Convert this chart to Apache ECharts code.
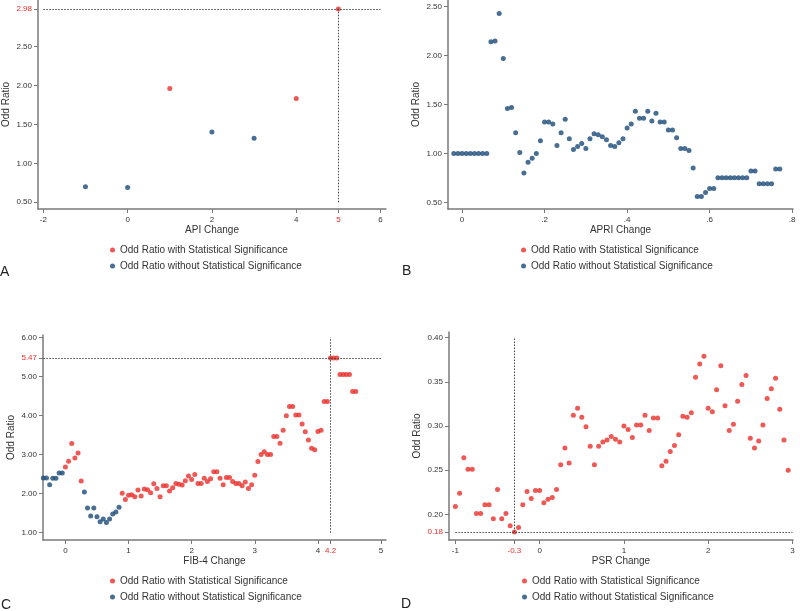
<!DOCTYPE html>
<html>
<head>
<meta charset="utf-8">
<script src="https://cdn.jsdelivr.net/npm/echarts@6/dist/echarts.min.js"></script>
<style>html,body{margin:0;padding:0;background:#fff}#c{width:800px;height:611px}</style>
</head>
<body>
<div id="c"></div>
<script>
// ---------- DATA ----------
// Panel A: API change
const apiX   = [-1, 0, 1, 2, 3, 4, 5];
const apiOR  = [0.70, 0.69, 1.96, 1.40, 1.32, 1.83, 2.98];
const apiSig = [0, 0, 1, 0, 0, 1, 1];
const apiXTicks = [-2, 0, 2, 4, 5, 6];
const apiYTicks = [0.5, 1.0, 1.5, 2.0, 2.5, 2.98];
const apiRefX = 5, apiRefY = 2.98;

// Panel B: APRI change
const apriX = [-0.02,-0.01,0.00,0.01,0.02,0.03,0.04,0.05,0.06,0.07,0.08,0.09,0.10,0.11,0.12,0.13,0.14,0.15,0.16,0.17,
  0.18,0.19,0.20,0.21,0.22,0.23,0.24,0.25,0.26,0.27,0.28,0.29,0.30,0.31,0.32,0.33,0.34,0.35,0.36,0.37,
  0.38,0.39,0.40,0.41,0.42,0.43,0.44,0.45,0.46,0.47,0.48,0.49,0.50,0.51,0.52,0.53,0.54,0.55,0.56,0.57,
  0.58,0.59,0.60,0.61,0.62,0.63,0.64,0.65,0.66,0.67,0.68,0.69,0.70,0.71,0.72,0.73,0.74,0.75,0.76,0.77];
const apriOR = [1.00,1.00,1.00,1.00,1.00,1.00,1.00,1.00,1.00,2.14,2.15,2.43,1.97,1.46,1.47,1.21,1.01,0.80,0.91,0.95,
  1.00,1.13,1.32,1.32,1.30,1.08,1.21,1.35,1.15,1.04,1.07,1.10,1.05,1.15,1.20,1.19,1.17,1.14,1.08,1.07,
  1.11,1.15,1.26,1.30,1.43,1.36,1.36,1.43,1.33,1.41,1.32,1.32,1.24,1.24,1.16,1.05,1.05,1.03,0.85,0.56,
  0.56,0.60,0.64,0.64,0.75,0.75,0.75,0.75,0.75,0.75,0.75,0.75,0.82,0.82,0.69,0.69,0.69,0.69,0.84,0.84];
const apriXTicks = [0, 0.2, 0.4, 0.6, 0.8];
const apriXLabels = ['0', '.2', '.4', '.6', '.8'];
const apriYTicks = [0.5, 1.0, 1.5, 2.0, 2.5];

// Panel C: FIB-4 change
const fibX = [-0.35,-0.30,-0.25,-0.20,-0.15,-0.10,-0.05,0.00,0.05,0.10,0.15,0.20,0.25,0.30,0.35,0.40,0.45,0.50,0.55,0.60,
  0.65,0.70,0.75,0.80,0.85,0.90,0.95,1.00,1.05,1.10,1.15,1.20,1.25,1.30,1.35,1.40,1.45,1.50,1.55,1.60,
  1.65,1.70,1.75,1.80,1.85,1.90,1.95,2.00,2.05,2.10,2.15,2.20,2.25,2.30,2.35,2.40,2.45,2.50,2.55,2.60,
  2.65,2.70,2.75,2.80,2.85,2.90,2.95,3.00,3.05,3.10,3.15,3.20,3.25,3.30,3.35,3.40,3.45,3.50,3.55,3.60,
  3.65,3.70,3.75,3.80,3.85,3.90,3.95,4.00,4.05,4.10,4.15,4.20,4.25,4.30,4.35,4.40,4.45,4.50,4.55,4.60];
const fibOR = [2.40,2.40,2.23,2.39,2.39,2.53,2.53,2.68,2.83,3.28,2.91,3.04,2.32,2.04,1.63,1.43,1.63,1.41,1.28,1.35,
  1.26,1.35,1.48,1.53,1.65,2.01,1.85,1.96,1.97,1.92,2.09,1.94,2.12,2.10,2.02,2.25,2.13,1.92,2.20,2.20,
  2.07,2.15,2.26,2.24,2.22,2.33,2.45,2.36,2.49,2.26,2.26,2.39,2.31,2.38,2.56,2.56,2.39,2.23,2.41,2.41,
  2.31,2.26,2.26,2.20,2.30,2.13,2.23,2.47,2.82,3.00,3.07,3.00,3.00,3.46,3.46,3.29,3.62,3.99,4.23,4.23,
  4.01,4.01,3.78,3.58,3.37,3.16,3.12,3.59,3.62,4.36,4.36,5.47,5.47,5.47,5.05,5.05,5.05,5.05,4.61,4.61];
const fibSig = [0,0,0,0,0,0,0,1,1,1,1,1,1,0,0,0,0,0,0,0,
  0,0,0,0,0,1,1,1,1,1,1,1,1,1,1,1,1,1,1,1,
  1,1,1,1,1,1,1,1,1,1,1,1,1,1,1,1,1,1,1,1,
  1,1,1,1,1,1,1,1,1,1,1,1,1,1,1,1,1,1,1,1,
  1,1,1,1,1,1,1,1,1,1,1,1,1,1,1,1,1,1,1,1];
const fibXTicks = [0, 1, 2, 3, 4, 4.2, 5];
const fibYTicks = [1, 2, 3, 4, 5, 5.47, 6];
const fibRefX = 4.2, fibRefY = 5.47;

// Panel D: PSR change
const psrX = [-1.00,-0.95,-0.90,-0.85,-0.80,-0.75,-0.70,-0.65,-0.60,-0.55,-0.50,-0.45,-0.40,-0.35,-0.30,-0.25,-0.20,-0.15,-0.10,-0.05,
  0.00,0.05,0.10,0.15,0.20,0.25,0.30,0.35,0.40,0.45,0.50,0.55,0.60,0.65,0.70,0.75,0.80,0.85,0.90,0.95,
  1.00,1.05,1.10,1.15,1.20,1.25,1.30,1.35,1.40,1.45,1.50,1.55,1.60,1.65,1.70,1.75,1.80,1.85,1.90,1.95,
  2.00,2.05,2.10,2.15,2.20,2.25,2.30,2.35,2.40,2.45,2.50,2.55,2.60,2.65,2.70,2.75,2.80,2.85,2.90,2.95];
const psrOR = [0.209,0.224,0.264,0.251,0.251,0.201,0.201,0.211,0.211,0.195,0.228,0.195,0.201,0.187,0.180,0.185,0.211,0.226,0.218,0.227,
  0.227,0.213,0.217,0.219,0.228,0.256,0.275,0.258,0.312,0.320,0.310,0.299,0.277,0.256,0.277,0.282,0.284,0.288,0.285,0.282,
  0.300,0.296,0.287,0.301,0.301,0.312,0.295,0.309,0.309,0.255,0.260,0.271,0.278,0.290,0.311,0.310,0.315,0.355,0.370,0.379,
  0.320,0.316,0.341,0.368,0.323,0.295,0.302,0.328,0.347,0.357,0.286,0.275,0.283,0.301,0.331,0.342,0.354,0.319,0.284,0.250];
const psrXTicks = [-1, -0.3, 0, 1, 2, 3];
const psrYTicks = [0.18, 0.20, 0.25, 0.30, 0.35, 0.40];
const psrRefX = -0.3, psrRefY = 0.18;

const SIG = 'Odd Ratio with Statistical Significance';
const NSIG = 'Odd Ratio without Statistical Significance';

// ---------- STYLE ----------
const RED = '#ea2f2a', BLUE = '#1c4a78', AXIS = '#7a7a7a', TXT = '#333';
const FONT = '"Liberation Sans", Arial, sans-serif';

function pick(xs, ys, sig, want) {
  const out = [];
  for (let i = 0; i < xs.length; i++) {
    const s = sig ? sig[i] : 1;
    if (s === want) out.push([xs[i], ys[i]]);
  }
  return out;
}

function xAxisCfg(idx, min, max, ticks, name, redVal, fmt) {
  return {
    type: 'value', gridIndex: idx, min: min, max: max,
    name: name, nameLocation: 'middle', nameGap: 14,
    nameTextStyle: { fontSize: 10, color: TXT, fontFamily: FONT },
    splitLine: { show: false },
    axisLine: { show: true, onZero: false, lineStyle: { color: AXIS, width: 1.5 } },
    axisTick: { show: true, length: 4, customValues: ticks, lineStyle: { color: AXIS, width: 1 } },
    axisLabel: {
      customValues: ticks, margin: 7, fontSize: 8, color: TXT, fontFamily: FONT,
      formatter: function (v) {
        const t = fmt ? fmt(v) : String(v);
        return (redVal !== null && Math.abs(v - redVal) < 1e-9) ? '{r|' + t + '}' : t;
      },
      rich: { r: { color: RED, fontSize: 8, fontFamily: FONT } }
    }
  };
}
function yAxisCfg(idx, min, max, ticks, redVal, dec) {
  return {
    type: 'value', gridIndex: idx, min: min, max: max,
    name: 'Odd Ratio', nameLocation: 'middle', nameGap: 27,
    nameTextStyle: { fontSize: 10, color: TXT, fontFamily: FONT },
    splitLine: { show: false },
    axisLine: { show: true, onZero: false, lineStyle: { color: AXIS, width: 1.5 } },
    axisTick: { show: true, length: 4, customValues: ticks, lineStyle: { color: AXIS, width: 1 } },
    axisLabel: {
      customValues: ticks, margin: 6, fontSize: 8, color: TXT, fontFamily: FONT,
      formatter: function (v) {
        const t = v.toFixed(dec);
        return (redVal !== null && Math.abs(v - redVal) < 1e-9) ? '{r|' + t + '}' : t;
      },
      rich: { r: { color: RED, fontSize: 8, fontFamily: FONT } }
    }
  };
}
function refLines(lines) {
  return {
    silent: true, symbol: 'none', animation: false,
    label: { show: false },
    lineStyle: { color: '#444', width: 1, type: [1.5, 1.5] },
    data: lines
  };
}
function scat(name, idx, data, color, ml) {
  const s = {
    name: name, type: 'scatter', xAxisIndex: idx, yAxisIndex: idx,
    data: data, symbol: 'circle', symbolSize: 5,
    itemStyle: { color: color }, animation: false, z: 3
  };
  if (ml) s.markLine = ml;
  return s;
}
function legendAt(left, top) {
  return {
    left: left, top: top, orient: 'vertical', padding: 0, itemGap: 4,
    itemWidth: 5, itemHeight: 5, icon: 'circle', selectedMode: false,
    textStyle: { fontSize: 10, color: TXT, fontFamily: FONT, lineHeight: 12 },
    data: [{ name: SIG, itemStyle: { color: RED } }, { name: NSIG, itemStyle: { color: BLUE } }]
  };
}

const option = {
  backgroundColor: '#fff',
  animation: false,
  textStyle: { fontFamily: FONT },
  grid: [
    { left: 38, top: 0, width: 348, height: 209, outerBoundsMode: 'none', containLabel: false },
    { left: 448, top: 0, width: 345, height: 209, outerBoundsMode: 'none', containLabel: false },
    { left: 43, top: 335, width: 343, height: 205, outerBoundsMode: 'none', containLabel: false },
    { left: 449, top: 332, width: 344, height: 208, outerBoundsMode: 'none', containLabel: false }
  ],
  xAxis: [
    xAxisCfg(0, -2.126, 6.13, apiXTicks, 'API Change', apiRefX, null),
    xAxisCfg(1, -0.034, 0.802, apriXTicks, 'APRI Change', null, function (v) {
      const i = apriXTicks.indexOf(v); return i >= 0 ? apriXLabels[i] : String(v);
    }),
    xAxisCfg(2, -0.355, 5.079, fibXTicks, 'FIB-4 Change', fibRefX, null),
    xAxisCfg(3, -1.076, 3.007, psrXTicks, 'PSR Change', psrRefX, null)
  ],
  yAxis: [
    yAxisCfg(0, 0.414, 3.094, apiYTicks, apiRefY, 2),
    yAxisCfg(1, 0.4315, 2.568, apriYTicks, null, 2),
    yAxisCfg(2, 0.813, 6.059, fibYTicks, fibRefY, 2),
    yAxisCfg(3, 0.171, 0.4063, psrYTicks, psrRefY, 2)
  ],
  legend: [legendAt(110, 244), legendAt(521, 244), legendAt(110, 575), legendAt(522, 575)],
  title: [
    { text: 'A', left: 0, top: 265, padding: 0, textStyle: { fontSize: 14, fontWeight: 'normal', color: '#222', fontFamily: FONT } },
    { text: 'B', left: 402, top: 264, padding: 0, textStyle: { fontSize: 14, fontWeight: 'normal', color: '#222', fontFamily: FONT } },
    { text: 'C', left: 1, top: 598, padding: 0, textStyle: { fontSize: 14, fontWeight: 'normal', color: '#222', fontFamily: FONT } },
    { text: 'D', left: 401, top: 597, padding: 0, textStyle: { fontSize: 14, fontWeight: 'normal', color: '#222', fontFamily: FONT } }
  ],
  series: [
    scat(SIG, 0, pick(apiX, apiOR, apiSig, 1), RED, refLines([
      [{ coord: [-2, apiRefY] }, { coord: [6, apiRefY] }],
      [{ coord: [apiRefX, 0.5] }, { coord: [apiRefX, apiRefY] }]
    ])),
    scat(NSIG, 0, pick(apiX, apiOR, apiSig, 0), BLUE),
    scat(SIG, 1, [], RED),
    scat(NSIG, 1, pick(apriX, apriOR, null, 1), BLUE),
    scat(SIG, 2, pick(fibX, fibOR, fibSig, 1), RED, refLines([
      [{ coord: [-0.35, fibRefY] }, { coord: [5, fibRefY] }],
      [{ coord: [fibRefX, 1] }, { coord: [fibRefX, 6] }]
    ])),
    scat(NSIG, 2, pick(fibX, fibOR, fibSig, 0), BLUE),
    scat(SIG, 3, pick(psrX, psrOR, null, 1), RED, refLines([
      [{ coord: [-1, psrRefY] }, { coord: [3, psrRefY] }],
      [{ coord: [psrRefX, psrRefY] }, { coord: [psrRefX, 0.40] }]
    ])),
    scat(NSIG, 3, [], BLUE)
  ]
};

const chart = echarts.init(document.getElementById('c'), null, { renderer: 'canvas' });
chart.setOption(option);
</script>
</body>
</html>
